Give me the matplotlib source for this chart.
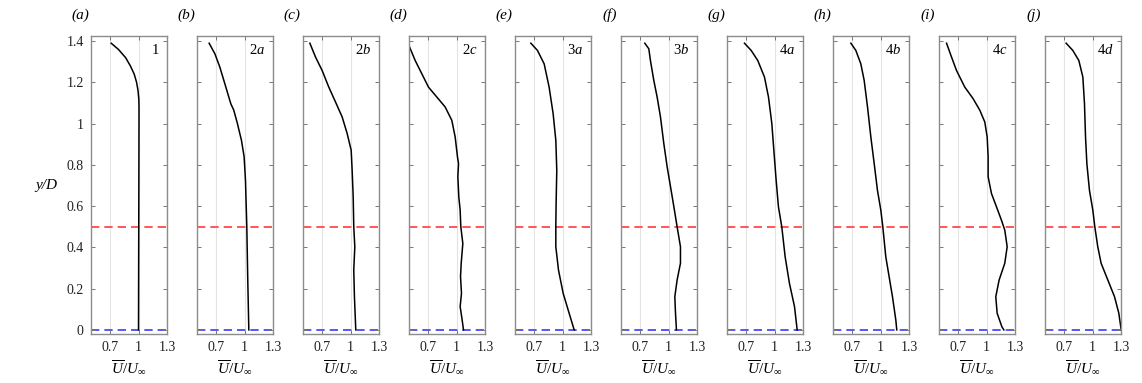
import matplotlib
matplotlib.use('Agg')
import matplotlib.pyplot as plt

plt.rcParams['font.family'] = ['Liberation Serif', 'DejaVu Serif']
plt.rcParams['mathtext.fontset'] = 'custom'
plt.rcParams['mathtext.rm'] = 'Liberation Serif'
plt.rcParams['mathtext.it'] = 'Liberation Serif:italic'

# ------------------------------------------------
# Profiles: (U/Uinf, y/D)
# ------------------------------------------------
letters = ['a', 'b', 'c', 'd', 'e', 'f', 'g', 'h', 'i', 'j']
cases = ['1', '2$a$', '2$b$', '2$c$', '3$a$', '3$b$', '4$a$', '4$b$', '4$c$', '4$d$']

u_1 = [0.714, 0.79, 0.865, 0.915, 0.955, 0.98, 0.995, 1.003, 1.005, 1.005, 1.004, 1.003, 1.002, 1.001, 1.0]
y_1 = [1.39, 1.36, 1.32, 1.28, 1.24, 1.2, 1.16, 1.12, 1.08, 1.0, 0.8, 0.6, 0.4, 0.2, 0.0]

u_2a = [0.63, 0.69, 0.742, 0.794, 0.846, 0.858, 0.888, 0.926, 0.968, 0.996, 1.01, 1.024, 1.034, 1.045]
y_2a = [1.39, 1.339, 1.274, 1.194, 1.113, 1.095, 1.065, 1.0, 0.919, 0.839, 0.726, 0.5, 0.242, 0.0]

u_2b = [0.575, 0.634, 0.703, 0.773, 0.843, 0.913, 0.965, 1.007, 1.017, 1.028, 1.034, 1.045, 1.034, 1.041, 1.055]
y_2b = [1.39, 1.323, 1.258, 1.177, 1.105, 1.032, 0.952, 0.871, 0.774, 0.645, 0.5, 0.403, 0.29, 0.161, 0.0]

u_2c = [0.498, 0.568, 0.637, 0.707, 0.794, 0.881, 0.951, 0.986, 1.01, 1.021, 1.014, 1.024, 1.038, 1.045,
        1.066, 1.049, 1.042, 1.052, 1.038, 1.059, 1.073]
y_2c = [1.384, 1.306, 1.242, 1.177, 1.129, 1.081, 1.016, 0.935, 0.839, 0.806, 0.742, 0.645, 0.581, 0.5,
        0.419, 0.323, 0.258, 0.177, 0.113, 0.048, 0.0]

u_3a = [0.669, 0.738, 0.808, 0.86, 0.902, 0.93, 0.94, 0.933, 0.93, 0.93, 0.958, 1.007, 1.069, 1.122]
y_3a = [1.39, 1.355, 1.29, 1.177, 1.048, 0.919, 0.774, 0.613, 0.5, 0.403, 0.29, 0.177, 0.081, 0.0]

u_3b = [0.752, 0.794, 0.811, 0.846, 0.881, 0.916, 0.951, 0.986, 1.021, 1.056, 1.09, 1.125, 1.125, 1.09,
        1.066, 1.073, 1.083]
y_3b = [1.39, 1.363, 1.306, 1.21, 1.129, 1.032, 0.903, 0.79, 0.694, 0.597, 0.5, 0.403, 0.323, 0.242,
        0.161, 0.081, 0.0]

u_4a = [0.686, 0.756, 0.825, 0.895, 0.937, 0.972, 0.993, 1.017, 1.041, 1.076, 1.111, 1.156, 1.209, 1.237]
y_4a = [1.39, 1.355, 1.306, 1.226, 1.129, 1.0, 0.871, 0.726, 0.597, 0.5, 0.355, 0.226, 0.113, 0.0]

u_4b = [0.69, 0.742, 0.794, 0.829, 0.864, 0.899, 0.934, 0.968, 1.003, 1.024, 1.055, 1.09, 1.125, 1.16, 1.17]
y_4b = [1.39, 1.355, 1.29, 1.21, 1.081, 0.935, 0.806, 0.677, 0.581, 0.5, 0.355, 0.258, 0.161, 0.048, 0.0]

u_4c = [0.582, 0.634, 0.686, 0.773, 0.86, 0.93, 0.982, 1.007, 1.017, 1.017, 1.052, 1.104, 1.156, 1.191,
        1.216, 1.191, 1.132, 1.097, 1.111, 1.16, 1.181]
y_4c = [1.39, 1.323, 1.258, 1.177, 1.121, 1.065, 1.008, 0.935, 0.839, 0.742, 0.661, 0.597, 0.532, 0.484,
        0.403, 0.323, 0.242, 0.161, 0.081, 0.016, 0.0]

u_4d = [0.724, 0.794, 0.857, 0.899, 0.916, 0.927, 0.941, 0.968, 1.003, 1.024, 1.055, 1.09, 1.16, 1.23,
        1.275, 1.3]
y_4d = [1.39, 1.355, 1.306, 1.226, 1.097, 0.935, 0.806, 0.677, 0.581, 0.5, 0.403, 0.323, 0.242, 0.161,
        0.081, 0.0]

profiles = [(u_1, y_1), (u_2a, y_2a), (u_2b, y_2b), (u_2c, y_2c), (u_3a, y_3a),
            (u_3b, y_3b), (u_4a, y_4a), (u_4b, y_4b), (u_4c, y_4c), (u_4d, y_4d)]

x_ticks = [0.7, 1.0, 1.3]
x_ticklabels = ['0.7', '1', '1.3']
y_ticks = [0, 0.2, 0.4, 0.6, 0.8, 1.0, 1.2, 1.4]
y_ticklabels = ['0', '0.2', '0.4', '0.6', '0.8', '1', '1.2', '1.4']
y_centre = 0.5   # red dashed line
y_wall = 0.0     # blue dashed line

# ------------------------------------------------
# Figure
# ------------------------------------------------
fig = plt.figure(figsize=(11.42, 3.83), dpi=100)

W, H = 1142.0, 383.0
left0, pitch, width = 90.7, 106.0, 76.5
top, bottom = 36.0, 334.0

for k, (u, y) in enumerate(profiles):
    ax = fig.add_axes([(left0 + k * pitch) / W, 1 - bottom / H, width / W, (bottom - top) / H])
    for gx in x_ticks:
        ax.axvline(gx, color='#e3e3e3', lw=0.8, zorder=0)
    ax.axhline(y_centre, color='#ff3b3b', lw=1.2, ls=(0, (5, 3)), zorder=1)
    ax.axhline(y_wall, color='#3a3aff', lw=1.2, ls=(0, (5, 3)), zorder=1)
    ax.plot(u, y, color='black', lw=1.1, zorder=2)

    ax.set_xlim(0.5, 1.3)
    ax.set_ylim(-0.02, 1.425)
    ax.set_xticks(x_ticks)
    ax.set_xticklabels(x_ticklabels, fontsize=10)
    ax.set_yticks(y_ticks)
    if k == 0:
        ax.set_yticklabels(y_ticklabels, fontsize=10)
    else:
        ax.set_yticklabels([])
    ax.tick_params(direction='in', length=3, width=0.7, color='#777777',
                   top=True, right=True, pad=5, labelcolor='#222222')
    for s in ax.spines.values():
        s.set_color('#8c8c8c')
        s.set_linewidth(1.0)

    ax.set_xlabel(r'$\overline{U}/U_\infty$', fontsize=11, labelpad=3)
    ax.text(-0.14, 1.07, '(' + letters[k] + ')', transform=ax.transAxes,
            ha='center', va='center', fontsize=11, style='italic')
    ax.text(0.9, 0.953, cases[k], transform=ax.transAxes,
            ha='right', va='center', fontsize=10.5)

fig.text(46 / W, 1 - 185 / H, 'y/D', ha='center', va='center',
         fontsize=11, style='italic')

fig.savefig('out.png', dpi=100)
